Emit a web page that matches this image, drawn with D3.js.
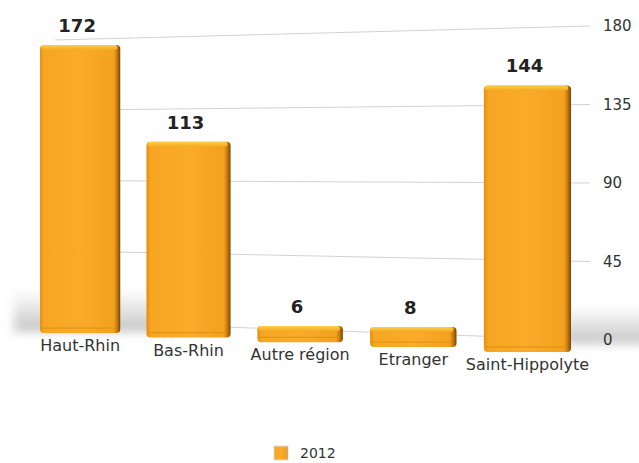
<!DOCTYPE html>
<html lang="fr">
<head>
  <meta charset="UTF-8">
  <title>Provenance 2012</title>
  <style>
    body { margin: 0; padding: 0; background: #ffffff; }
    svg { display: block; font-family: 'DejaVu Sans', sans-serif; }
    .grid line { stroke: #d2d2d2; stroke-width: 1; }
    .tick-label { font-size: 15px; fill: #333; }
    .cat-label { font-size: 16px; fill: #333; text-anchor: middle; }
    .val-label { font-size: 18px; font-weight: bold; fill: #222; text-anchor: middle; }
  </style>
</head>
<body>
<svg></svg>
<script src="https://d3js.org/d3.v7.min.js"></script>
<script>
  const categories = ["Haut-Rhin", "Bas-Rhin", "Autre région", "Etranger", "Saint-Hippolyte"];
  const values2012 = [172, 113, 6, 8, 144];
  const ticks = [0, 45, 90, 135, 180];
  const seriesName = "2012";

  const width = 639, height = 463;

  const svg = d3.select("svg")
    .attr("width", width)
    .attr("height", height);

  const defs = svg.append("defs");

  // bar body gradient (left to right)
  const g1 = defs.append("linearGradient").attr("id", "barGrad")
    .attr("x1", "0%").attr("x2", "100%").attr("y1", "0%").attr("y2", "0%");
  [[0, "#e2900f"], [0.05, "#f6a622"], [0.5, "#f9ab29"], [0.92, "#f3a11f"], [0.96, "#c97a0c"], [1, "#744607"]]
    .forEach(([o, c]) => g1.append("stop").attr("offset", o).attr("stop-color", c));

  // top face gradient
  const g2 = defs.append("linearGradient").attr("id", "topGrad")
    .attr("x1", "0%").attr("x2", "0%").attr("y1", "0%").attr("y2", "100%");
  [[0, "#fcd048"], [1, "#f6a824"]]
    .forEach(([o, c]) => g2.append("stop").attr("offset", o).attr("stop-color", c));

  // floor shadow, fading upwards
  const g3 = defs.append("linearGradient").attr("id", "shadowGrad")
    .attr("x1", "0%").attr("x2", "0%").attr("y1", "0%").attr("y2", "100%");
  [[0, 0], [0.6, 0.3], [1, 0.5]]
    .forEach(([o, a]) => g3.append("stop").attr("offset", o).attr("stop-color", "#8a8a8a").attr("stop-opacity", a));

  defs.append("filter").attr("id", "blur")
    .attr("x", "-20%").attr("y", "-50%").attr("width", "140%").attr("height", "200%")
    .append("feGaussianBlur").attr("stdDeviation", 5);

  // gridlines in slight perspective: left end and right end scales
  const gridX0 = 55, gridX1 = 590;
  const yLeft = d3.scaleLinear().domain([0, 180]).range([321, 40]);
  const yRight = d3.scaleLinear().domain([0, 180]).range([340, 26]);

  // floor shadow at both sides
  svg.append("rect")
    .attr("x", 14).attr("y", 290)
    .attr("width", 150).attr("height", 42)
    .attr("fill", "url(#shadowGrad)")
    .attr("filter", "url(#blur)");
  svg.append("rect")
    .attr("x", 560).attr("y", 306)
    .attr("width", 90).attr("height", 38)
    .attr("fill", "url(#shadowGrad)")
    .attr("filter", "url(#blur)");

  svg.append("g").attr("class", "grid")
    .selectAll("line")
    .data(ticks)
    .join("line")
    .attr("x1", gridX0).attr("x2", gridX1)
    .attr("y1", d => yLeft(d))
    .attr("y2", d => yRight(d));

  svg.append("g")
    .selectAll("text")
    .data(ticks)
    .join("text")
    .attr("class", "tick-label")
    .attr("x", 603)
    .attr("y", d => yRight(d))
    .attr("dy", "0.35em")
    .text(d => d);

  // bands in unit space, then a mild perspective stretch to pixels
  const xb = d3.scaleBand()
    .domain(categories)
    .range([0, 1])
    .paddingInner(0.24);
  const persp = d3.scalePow().exponent(1.03).domain([0, 1]).range([40, 571]);

  // perspective: bars further right sit lower and taller
  const baseAt = d3.scaleLinear().domain([80, 530]).range([333, 352]);
  const unitAt = d3.scaleLinear().domain([80, 530]).range([1.64, 1.81]);
  const depth = 6;

  const data = categories.map((c, i) => {
    const x0 = persp(xb(c)), x1 = persp(xb(c) + xb.bandwidth());
    const cx = (x0 + x1) / 2;
    const base = baseAt(cx);
    const top = base - values2012[i] * unitAt(cx) - depth;
    return { cat: c, value: values2012[i], x: x0, w: x1 - x0, cx, base, top };
  });

  const bars = svg.append("g")
    .selectAll("g")
    .data(data)
    .join("g");

  bars.append("rect")
    .attr("x", d => d.x)
    .attr("y", d => d.top)
    .attr("width", d => d.w)
    .attr("height", d => d.base - d.top)
    .attr("rx", 4)
    .attr("fill", "url(#barGrad)");

  bars.append("rect")
    .attr("x", d => d.x + 1)
    .attr("y", d => d.top)
    .attr("width", d => d.w - 4)
    .attr("height", 5)
    .attr("rx", 3)
    .attr("fill", "url(#topGrad)");

  bars.append("line")
    .attr("x1", d => d.x + 2).attr("x2", d => d.x + d.w - 4)
    .attr("y1", d => d.base - 5).attr("y2", d => d.base - 5)
    .attr("stroke", "#d8860e").attr("stroke-width", 1).attr("opacity", 0.7);

  bars.append("text")
    .attr("class", "val-label")
    .attr("x", d => d.cx - 3)
    .attr("y", d => d.top - 13)
    .text(d => d.value);

  bars.append("text")
    .attr("class", "cat-label")
    .attr("x", d => d.cx)
    .attr("y", d => d.base + 18)
    .text(d => d.cat);

  // legend
  const legend = svg.append("g").attr("transform", "translate(274,446)");
  legend.append("rect")
    .attr("width", 14).attr("height", 14)
    .attr("fill", "url(#barGrad)")
    .attr("stroke", "#ddd");
  legend.append("text")
    .attr("x", 26).attr("y", 12)
    .attr("font-size", 14).attr("fill", "#333")
    .text(seriesName);
</script>
</body>
</html>
